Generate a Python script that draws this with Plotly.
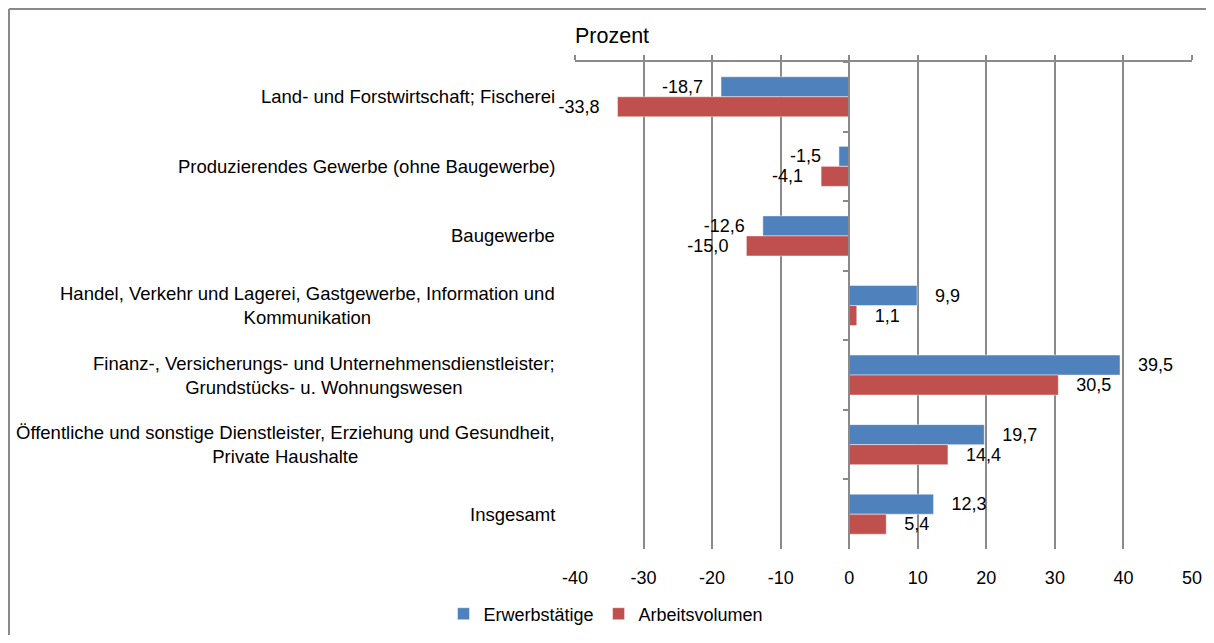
import plotly.graph_objects as go

categories = [
    "Land- und Forstwirtschaft; Fischerei",
    "Produzierendes Gewerbe (ohne Baugewerbe)",
    "Baugewerbe",
    "Handel, Verkehr und Lagerei, Gastgewerbe, Information und<br>Kommunikation",
    "Finanz-, Versicherungs- und Unternehmensdienstleister;<br>Grundstücks- u. Wohnungswesen",
    "Öffentliche und sonstige Dienstleister, Erziehung und Gesundheit,<br>Private Haushalte",
    "Insgesamt",
]
erwerbstaetige = [-18.7, -1.5, -12.6, 9.9, 39.5, 19.7, 12.3]
arbeitsvolumen = [-33.8, -4.1, -15.0, 1.1, 30.5, 14.4, 5.4]
x_ticks = [-40, -30, -20, -10, 0, 10, 20, 30, 40, 50]

FONT = "Liberation Sans, Arial, sans-serif"
BLUE = "#4F81BD"
RED = "#C0504D"
GRID = "#8a8a8a"
PAD = "\u00a0\u00a0\u00a0"


def fmt(v):
    s = f"{v:.1f}".replace(".", ",")
    return s + PAD if v < 0 else PAD + s


# page has an 8px body margin, so the figure starts at (8, 8)
W, H = 1198, 627
ML, MR, MT, MB = 567, 14, 54, 86
PW = W - ML - MR
PH = H - MT - MB

fig = go.Figure()
fig.add_trace(go.Bar(
    name="Erwerbstätige", y=categories, x=erwerbstaetige, orientation="h",
    marker=dict(color=BLUE, line=dict(color="rgba(255,255,255,0.45)", width=1)),
    text=[fmt(v) for v in erwerbstaetige],
    textposition="outside", constraintext="none", cliponaxis=False,
    textfont=dict(size=18, color="#000000", family=FONT),
))
fig.add_trace(go.Bar(
    name="Arbeitsvolumen", y=categories, x=arbeitsvolumen, orientation="h",
    marker=dict(color=RED, line=dict(color="rgba(255,255,255,0.45)", width=1)),
    text=[fmt(v) for v in arbeitsvolumen],
    textposition="outside", constraintext="none", cliponaxis=False,
    textfont=dict(size=18, color="#000000", family=FONT),
))
# invisible helper trace for the category axis drawn at x = 0
fig.add_trace(go.Scatter(
    y=categories, x=[0] * len(categories), yaxis="y2", mode="markers",
    marker=dict(opacity=0), showlegend=False, hoverinfo="skip",
))
# invisible helper trace for the top axis line with ticks
fig.add_trace(go.Scatter(
    y=categories, x=[0] * len(categories), xaxis="x2", mode="markers",
    marker=dict(opacity=0), showlegend=False, hoverinfo="skip",
))

xr = [x_ticks[0], x_ticks[-1]]
zero_pos = (0 - xr[0]) / (xr[1] - xr[0])

for cat in categories:
    fig.add_annotation(
        x=-18 / PW, xref="paper", y=cat, yref="y", text=cat,
        xanchor="right", yanchor="middle", align="center", showarrow=False,
        font=dict(size=18.5, color="#000000", family=FONT),
    )

fig.add_annotation(
    x=-2 / PW, xref="paper", y=1 + 26 / PH, yref="paper", text="Prozent",
    xanchor="left", yanchor="middle", showarrow=False,
    font=dict(size=21.5, color="#000000", family=FONT),
)

# outer chart border (only left and top edges are visible)
bx0 = (1 - ML) / PW
by1 = 1 + (MT - 1) / PH
fig.add_shape(type="line", xref="paper", yref="paper",
              x0=bx0, x1=(W - ML) / PW, y0=by1, y1=by1,
              line=dict(color="#8a8a8a", width=2))
fig.add_shape(type="line", xref="paper", yref="paper",
              x0=bx0, x1=bx0, y0=-MB / PH, y1=by1,
              line=dict(color="#8a8a8a", width=2))

fig.update_layout(
    width=W, height=H,
    margin=dict(l=ML, r=MR, t=MT, b=MB, autoexpand=False),
    paper_bgcolor="white", plot_bgcolor="white",
    barmode="group", bargap=0.425, bargroupgap=0,
    font=dict(family=FONT, size=18, color="#000000"),
    separators=",.",
    showlegend=True,
    legend=dict(
        orientation="h", x=(598 - ML) / PW, xanchor="center",
        y=-(606 - (MT + PH)) / PH, yanchor="middle",
        font=dict(size=18, family=FONT, color="#000000"),
        itemwidth=30, traceorder="normal",
    ),
    xaxis=dict(
        range=xr, tickvals=x_ticks, ticktext=[str(t) for t in x_ticks],
        showgrid=True, gridcolor=GRID, gridwidth=1.5, zeroline=False,
        showline=False, ticks="", ticklabelstandoff=16, automargin=False,
        tickfont=dict(size=18, family=FONT, color="#000000"),
        fixedrange=True,
    ),
    xaxis2=dict(
        range=xr, tickvals=x_ticks, overlaying="x", side="top", anchor="y",
        showgrid=False, zeroline=False, showline=True, linecolor=GRID, linewidth=1.5,
        ticks="outside", ticklen=5, tickcolor=GRID, tickwidth=1.5,
        showticklabels=False, automargin=False,
    ),
    yaxis=dict(
        type="category", categoryarray=categories, range=[6.5, -0.5],
        showticklabels=False, showgrid=False, zeroline=False, showline=False,
        ticks="", automargin=False,
    ),
    yaxis2=dict(
        type="category", categoryarray=categories, range=[6.5, -0.5],
        overlaying="y", anchor="free", position=zero_pos, side="left",
        showticklabels=False, showgrid=False, zeroline=False,
        showline=True, linecolor=GRID, linewidth=1.5, automargin=False,
        ticks="outside", tickson="boundaries", ticklen=5, tickcolor=GRID, tickwidth=1.5,
    ),
)

fig.write_html("out.html")
